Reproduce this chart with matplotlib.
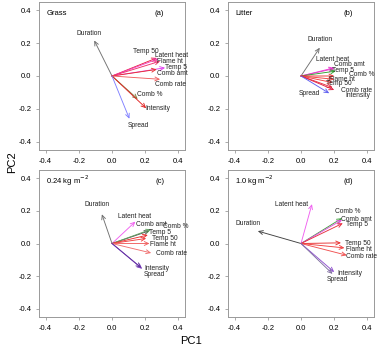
import matplotlib
matplotlib.use("Agg")
import matplotlib.pyplot as plt

plt.rcParams["font.family"] = ["Liberation Sans", "DejaVu Sans"]

# =========================
# データ (PC1, PC2 loadings)
# =========================
PANEL_TITLES = ["Grass", "Litter", "0.24 kg m$^{-2}$", "1.0 kg m$^{-2}$"]
PANEL_TAGS = ["(a)", "(b)", "(c)", "(d)"]

# (a) Grass
a_names = ["Duration", "Temp 50", "Latent heat", "Flame ht", "Temp 5", "Comb amt",
           "Comb rate", "Comb %", "Intensity", "Spread"]
a_pc1 = [-0.107, 0.27, 0.28, 0.29, 0.32, 0.27, 0.29, 0.155, 0.206, 0.105]
a_pc2 = [0.216, 0.11, 0.105, 0.09, 0.05, 0.04, -0.02, -0.14, -0.196, -0.26]

# (b) Litter
b_names = ["Duration", "Latent heat", "Comb amt", "Temp 5", "Comb %", "Flame ht",
           "Temp 50", "Comb rate", "Intensity", "Spread"]
b_pc1 = [0.113, 0.2, 0.2, 0.21, 0.2, 0.2, 0.19, 0.19, 0.2, 0.17]
b_pc2 = [0.172, 0.05, 0.045, 0.03, 0.0, -0.02, -0.04, -0.07, -0.085, -0.105]

# (c) 0.24 kg m-2
c_names = ["Duration", "Latent heat", "Comb amt", "Comb %", "Temp 5", "Temp 50",
           "Flame ht", "Comb rate", "Intensity", "Spread"]
c_pc1 = [-0.061, 0.141, 0.226, 0.236, 0.216, 0.206, 0.226, 0.236, 0.182, 0.176]
c_pc2 = [0.179, 0.134, 0.078, 0.087, 0.052, 0.031, 0.0, -0.058, -0.155, -0.148]

# (d) 1.0 kg m-2
d_names = ["Latent heat", "Duration", "Comb %", "Comb amt", "Temp 5", "Temp 50",
           "Flame ht", "Comb rate", "Intensity", "Spread"]
d_pc1 = [0.066, -0.26, 0.247, 0.247, 0.252, 0.241, 0.262, 0.276, 0.2, 0.19]
d_pc2 = [0.241, 0.076, 0.155, 0.144, 0.124, 0.004, -0.027, -0.072, -0.175, -0.186]

# ラベル位置 (テキスト中心)
a_lab_x = [-0.137, 0.206, 0.358, 0.352, 0.388, 0.364, 0.354, 0.226, 0.277, 0.156]
a_lab_y = [0.259, 0.149, 0.124, 0.086, 0.049, 0.018, -0.049, -0.114, -0.198, -0.298]
b_lab_x = [0.113, 0.19, 0.29, 0.255, 0.366, 0.244, 0.23, 0.333, 0.34, 0.05]
b_lab_y = [0.222, 0.098, 0.068, 0.032, 0.008, -0.022, -0.046, -0.088, -0.118, -0.106]
c_lab_x = [-0.093, 0.135, 0.236, 0.382, 0.287, 0.321, 0.307, 0.358, 0.271, 0.253]
c_lab_y = [0.239, 0.165, 0.118, 0.103, 0.066, 0.031, -0.008, -0.062, -0.153, -0.19]
d_lab_x = [-0.058, -0.32, 0.282, 0.334, 0.338, 0.344, 0.348, 0.365, 0.293, 0.221]
d_lab_y = [0.239, 0.122, 0.194, 0.148, 0.118, 0.002, -0.037, -0.082, -0.184, -0.223]

# 矢印の色
a_colors = ["#707070", "#e8203a", "#f040c0", "#f0306a", "#e040f0", "#e83030",
            "#f06060", "#808040", "#e02020", "#8080ff"]
b_colors = ["#707070", "#f040e0", "#e040c0", "#30a030", "#e83030", "#f04040",
            "#f04040", "#e83040", "#e02040", "#6060f0"]
c_colors = ["#707070", "#f060f0", "#505050", "#60a060", "#e83030", "#f04040",
            "#f06060", "#f07070", "#8040c0", "#6030a0"]
d_colors = ["#f060f0", "#404040", "#40a040", "#e050e0", "#e83040", "#e83030",
            "#f04040", "#f05050", "#9050d0", "#8070a0"]

panels = [
    (a_names, a_pc1, a_pc2, a_lab_x, a_lab_y, a_colors),
    (b_names, b_pc1, b_pc2, b_lab_x, b_lab_y, b_colors),
    (c_names, c_pc1, c_pc2, c_lab_x, c_lab_y, c_colors),
    (d_names, d_pc1, d_pc2, d_lab_x, d_lab_y, d_colors),
]

# =========================
# 図の作成
# =========================
W, H = 382, 347
fig = plt.figure(figsize=(W / 100, H / 100), dpi=100)

# 各パネルのピクセル位置 (left, top, right, bottom)
boxes = [(39, 2, 185, 150), (228, 2, 374, 150), (39, 170, 185, 317), (228, 170, 374, 317)]

ticks = [-0.4, -0.2, 0.0, 0.2, 0.4]

for i, (names, pc1, pc2, lx, ly, cols) in enumerate(panels):
    l, t, r, b = boxes[i]
    ax = fig.add_axes([l / W, 1 - b / H, (r - l) / W, (b - t) / H])
    ax.set_xlim(-0.44, 0.44)
    ax.set_ylim(-0.45, 0.45)

    for name, x, y, tx, ty, c in zip(names, pc1, pc2, lx, ly, cols):
        ax.annotate("", xy=(x, y), xytext=(0, 0),
                    arrowprops=dict(arrowstyle="->,head_length=0.3,head_width=0.14",
                                    color=c, lw=0.65, shrinkA=0, shrinkB=0))
        ax.text(tx, ty, name, fontsize=4.8, ha="center", va="center", color="#222222")

    ax.text(-0.395, 0.382, PANEL_TITLES[i], fontsize=5.5, ha="left", va="center")
    ax.text(0.287, 0.378, PANEL_TAGS[i], fontsize=5.5, ha="center", va="center")

    ax.set_xticks(ticks)
    ax.set_yticks(ticks)
    ax.set_xticklabels(["%.1f" % v for v in ticks])
    ax.set_yticklabels(["%.1f" % v for v in ticks])
    ax.tick_params(labelsize=5.5, length=2.5, width=0.5, color="#888888", pad=3)
    for s in ax.spines.values():
        s.set_color("#999999")
        s.set_linewidth(0.7)

fig.text(12 / W, 1 - 162 / H, "PC2", rotation=90, fontsize=8, ha="center", va="center")
fig.text(191 / W, 1 - 341 / H, "PC1", fontsize=8, ha="center", va="center")

plt.savefig("out.png", dpi=100)
